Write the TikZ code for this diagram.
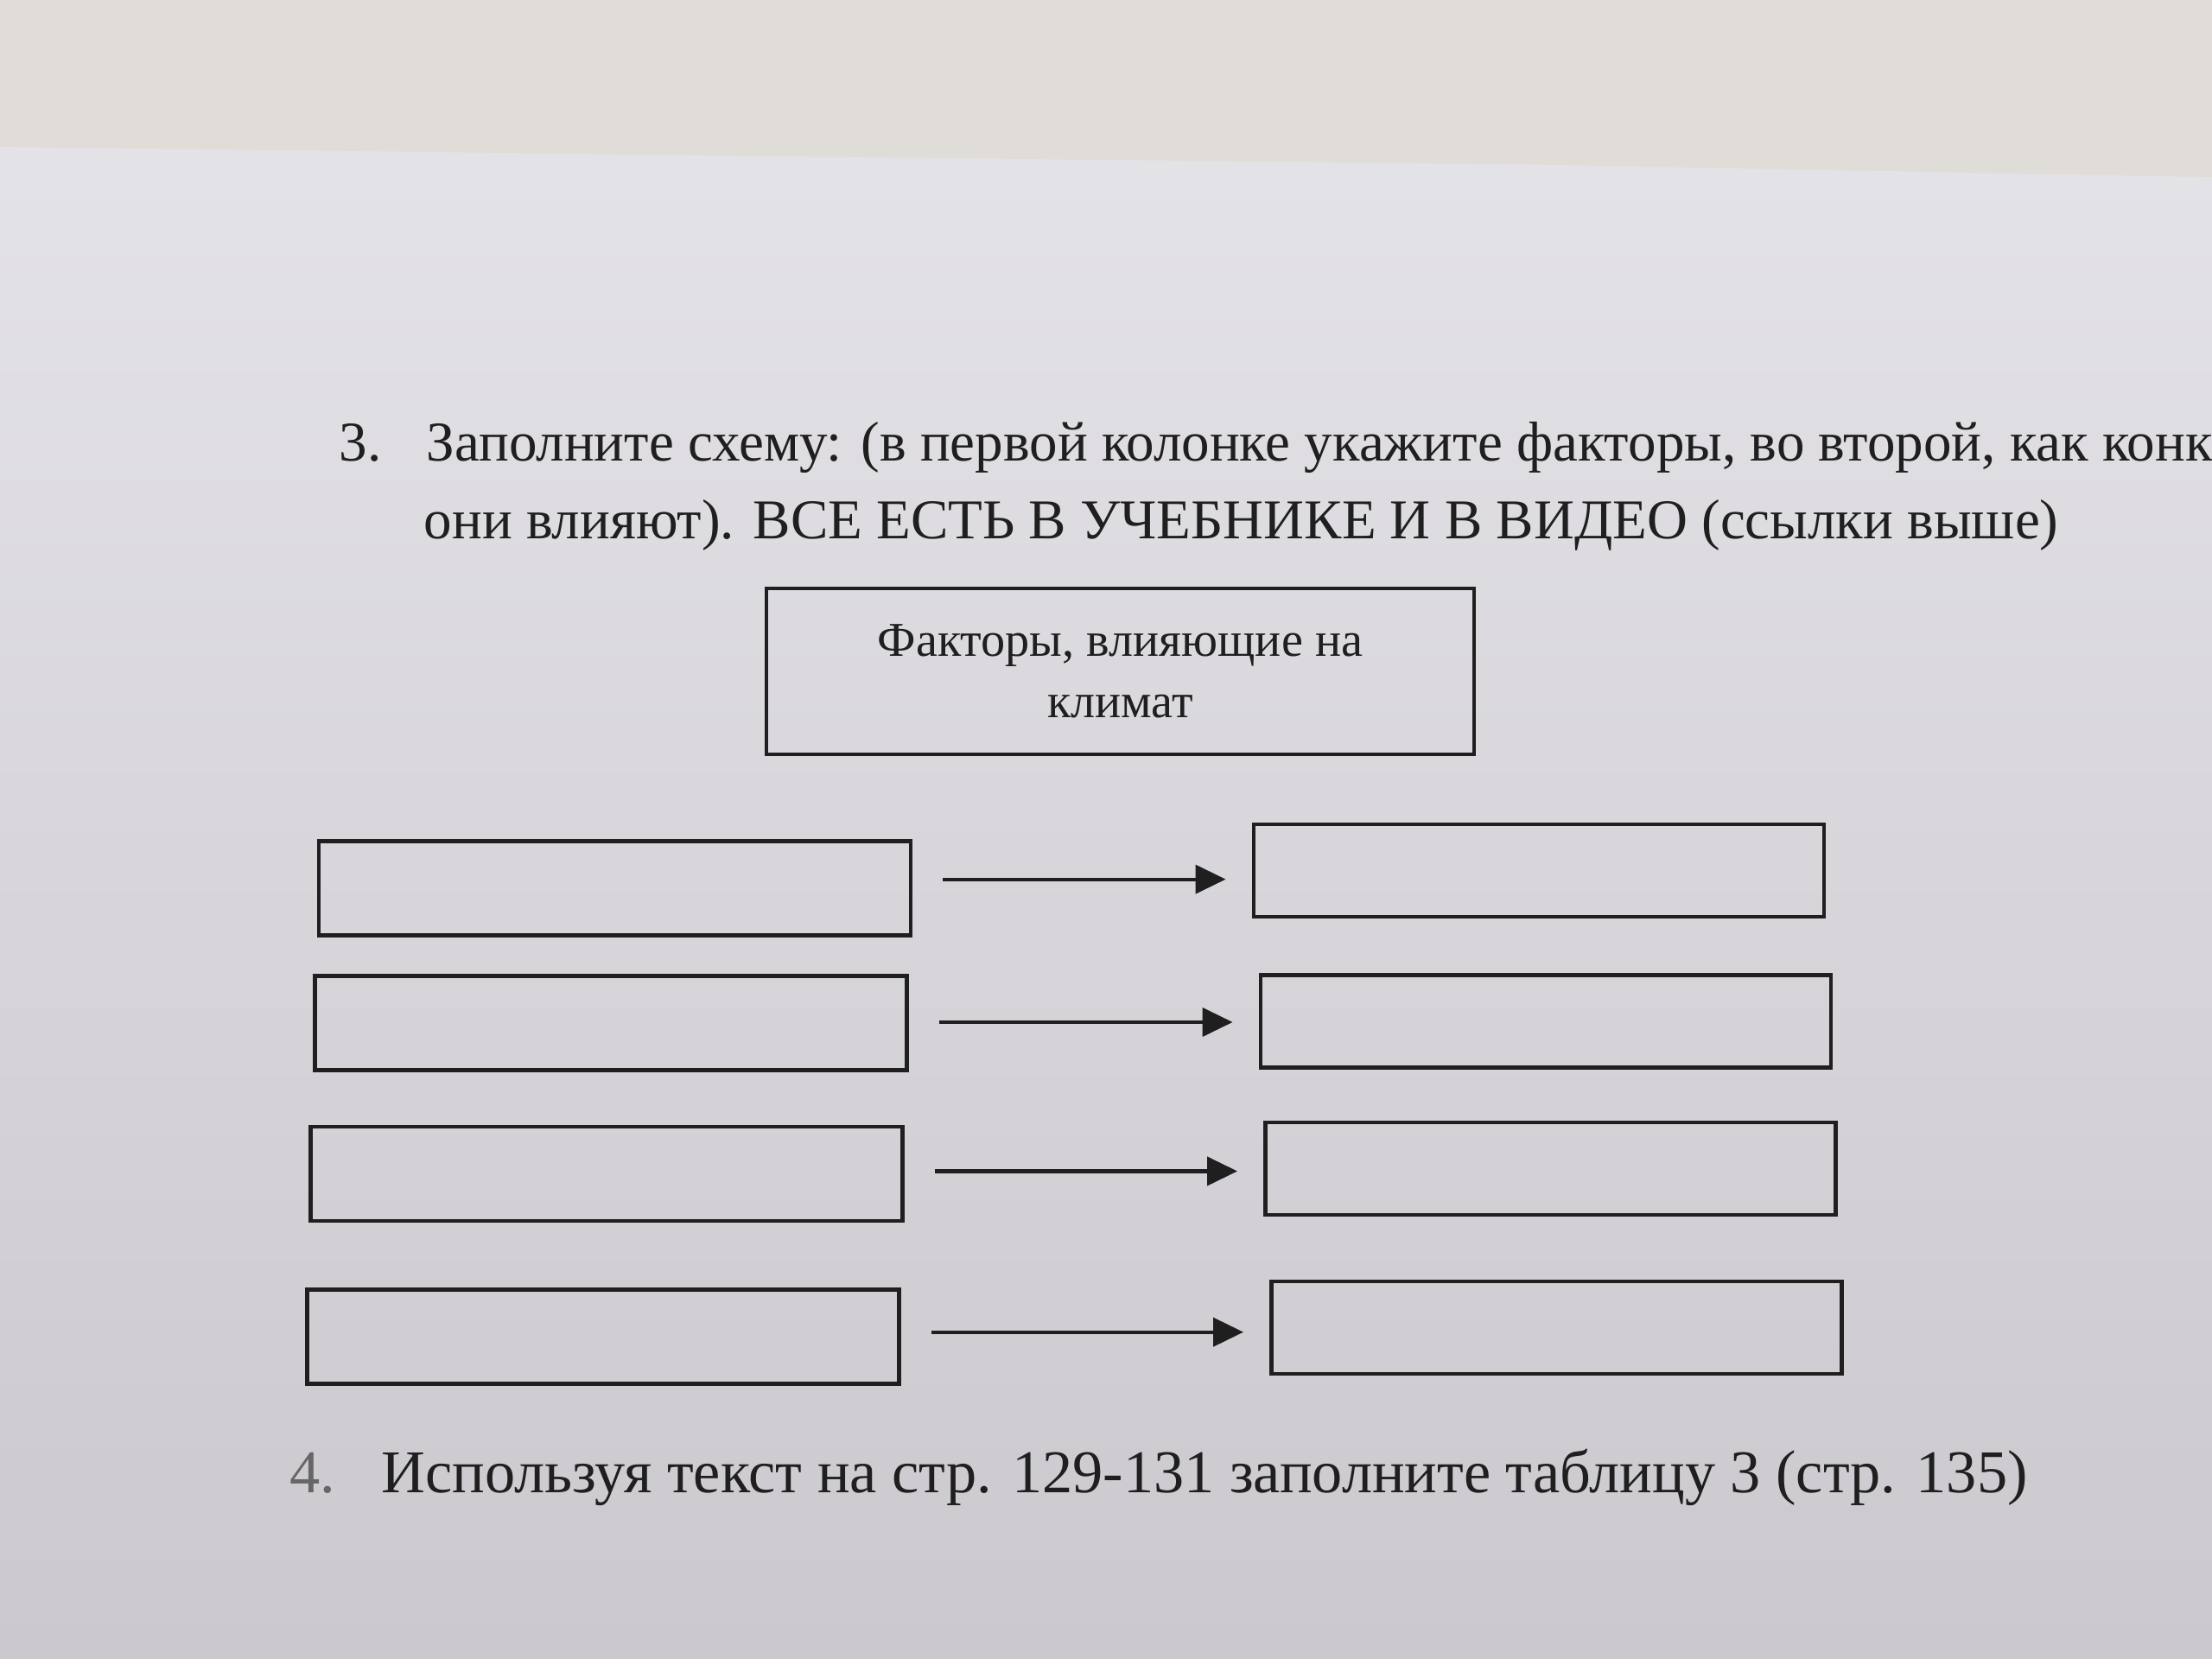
\documentclass[tikz,border=0pt]{standalone}
\usepackage{fontspec}
\setmainfont{Liberation Serif}
\usetikzlibrary{arrows.meta}

\begin{document}
\begin{tikzpicture}[
    task/.style={anchor=base west, inner sep=0pt, text=black!88, font=\fontsize{18.5}{22}\selectfont},
    head/.style={draw=black!88, line width=1.3pt, align=center, minimum width=8.19cm, minimum height=1.92cm, inner sep=2pt, text=black!88, font=\fontsize{16}{20}\selectfont},
    factor/.style={draw=black!88, line width=1.4pt, minimum width=6.85cm, minimum height=1.09cm},
    effect/.style={draw=black!88, line width=1.4pt, minimum width=6.6cm, minimum height=1.07cm},
    flow/.style={-{Triangle[length=3.5mm, width=3.3mm]}, draw=black!88, line width=1.2pt, shorten <=0.35cm, shorten >=0.3cm}
]
\definecolor{paperlight}{RGB}{230,229,233}
\definecolor{paperdark}{RGB}{203,200,206}
\definecolor{desk}{RGB}{224,220,216}

\useasboundingbox (0,0) rectangle (25.6,-19.2);
\clip (0,0) rectangle (25.6,-19.2);
\shade[top color=paperlight, bottom color=paperdark] (0,0) rectangle (25.6,-19.2);
\fill[desk] (0,0) -- (25.6,0) -- (25.6,-2.05) -- (17.5,-1.9) -- (10,-1.82) -- (0,-1.70) -- cycle;

% task 3
\node[task] (num3) at (3.92,-5.34) {3.};
\node[task] (task3) at (4.93,-5.34) {Заполните схему: (в первой колонке укажите факторы, во второй, как конкретно};
\node[task] (task3b) at (4.90,-6.24) {они влияют). ВСЕ ЕСТЬ В УЧЕБНИКЕ И В ВИДЕО (ссылки выше)};

\node[head] (climate) at (12.965,-7.77) {Факторы, влияющие на\\климат};

\node[factor] (f1) at (7.115,-10.28) {};
\node[effect] (e1) at (17.81,-10.075) {};
\path (f1) -- (e1) coordinate[pos=0.5] (m1);
\draw[flow] (f1.east |- m1) -- (e1.west |- m1);

\node[factor] (f2) at (7.07,-11.84) {};
\node[effect] (e2) at (17.89,-11.82) {};
\path (f2) -- (e2) coordinate[pos=0.5] (m2);
\draw[flow] (f2.east |- m2) -- (e2.west |- m2);

\node[factor] (f3) at (7.02,-13.585) {};
\node[effect] (e3) at (17.945,-13.525) {};
\path (f3) -- (e3) coordinate[pos=0.5] (m3);
\draw[flow] (f3.east |- m3) -- (e3.west |- m3);

\node[factor] (f4) at (6.98,-15.47) {};
\node[effect] (e4) at (18.015,-15.365) {};
\path (f4) -- (e4) coordinate[pos=0.5] (m4);
\draw[flow] (f4.east |- m4) -- (e4.west |- m4);

% task 4
\node[task, text=black!60, font=\fontsize{20}{24}\selectfont] (num4) at (3.35,-17.27) {4.};
\node[task, font=\fontsize{20}{24}\selectfont] (task4) at (4.41,-17.27) {Используя текст на стр. 129-131 заполните таблицу 3 (стр. 135)};
\end{tikzpicture}
\end{document}
